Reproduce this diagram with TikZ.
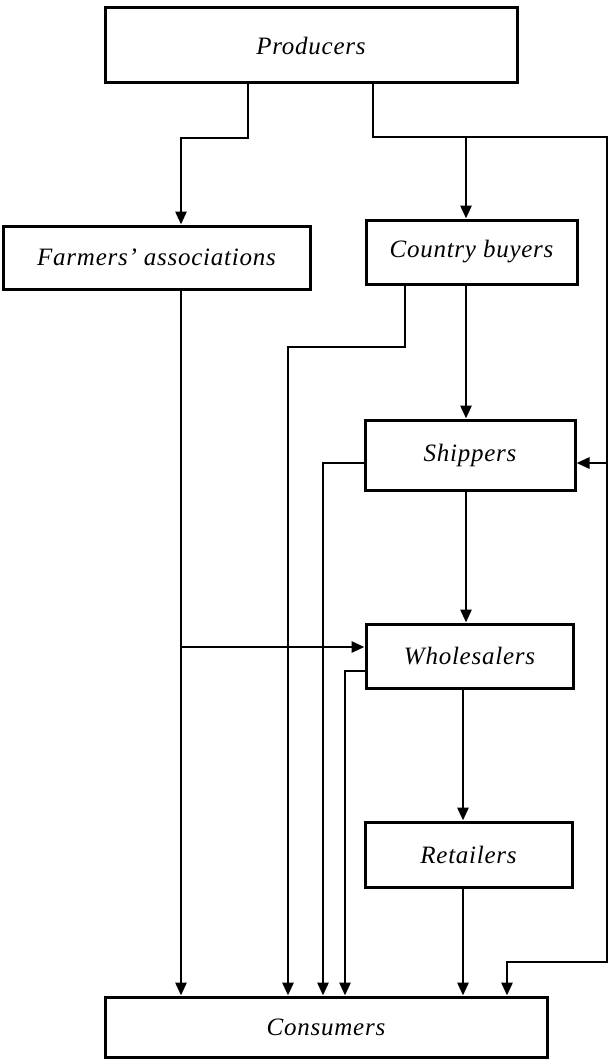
\documentclass[tikz,border=0pt]{standalone}
\usepackage{fontspec}
\setmainfont{Liberation Serif}
\usetikzlibrary{arrows.meta}
\begin{document}
\begin{tikzpicture}[x=1pt,y=-1pt,
  box/.style={draw,line width=3pt,rectangle,inner sep=0pt,
    font=\fontsize{25}{29}\selectfont\itshape\addfontfeatures{LetterSpace=3}},
  link/.style={line width=2.8pt},
  arr/.style={link,-{Triangle[width=11pt,length=13pt]}}]
\useasboundingbox (0,0) rectangle (610,1062);

% boxes of the marketing chain
\node[box,minimum width=412pt,minimum height=75pt] (prod) at (311,45.5) {Producers};
\node[box,minimum width=307pt,minimum height=63pt] (farm) at (156.5,257.5) {Farmers’ associations};
\node[box,minimum width=211pt,minimum height=64pt] (cb) at (471.5,252) {Country buyers};
\node[box,minimum width=210pt,minimum height=70pt] (ship) at (470,455) {Shippers};
\node[box,minimum width=207pt,minimum height=64pt] (whole) at (469.5,656) {Wholesalers};
\node[box,minimum width=207pt,minimum height=65pt] (ret) at (468.5,854.5) {Retailers};
\node[box,minimum width=442pt,minimum height=60pt] (cons) at (326,1027) {Consumers};

% routing points
\coordinate (pA) at (248,0);
\coordinate (pL) at (181,138);
\coordinate (pB) at (373,0);
\coordinate (pR) at (607,137);
\coordinate (pRd) at (607,962);
\coordinate (pR2) at (507,962);
\coordinate (xM) at (466,0);
\coordinate (xM2) at (463,0);
\coordinate (xC) at (405,0);
\coordinate (c288) at (288,347);
\coordinate (c323) at (323,0);
\coordinate (c345) at (345,0);
\coordinate (yS) at (0,463);
\coordinate (yW) at (0,671);
\coordinate (yFW) at (0,647);

% from producers
\draw[arr] (prod.south -| pA) |- (pL) -- (farm.north -| pL);
\draw[arr] (prod.south -| pB) |- (pR) -- (pRd) -- (pR2) -- (cons.north -| pR2);
\draw[arr] (xM |- pR) -- (cb.north -| xM);
\draw[arr] (pR |- yS) -- (ship.east |- yS);

% farmers' associations
\draw[arr] (farm.south -| pL) -- (cons.north -| pL);
\draw[arr] (pL |- yFW) -- (whole.west |- yFW);

% country buyers
\draw[arr] (cb.south -| xM) -- (ship.north -| xM);
\draw[arr] (cb.south -| xC) |- (c288) -- (cons.north -| c288);

% shippers
\draw[arr] (ship.west |- yS) -| (cons.north -| c323);
\draw[arr] (ship.south -| xM) -- (whole.north -| xM);

% wholesalers
\draw[arr] (whole.west |- yW) -| (cons.north -| c345);
\draw[arr] (whole.south -| xM2) -- (ret.north -| xM2);

% retailers
\draw[arr] (ret.south -| xM2) -- (cons.north -| xM2);
\end{tikzpicture}
\end{document}
